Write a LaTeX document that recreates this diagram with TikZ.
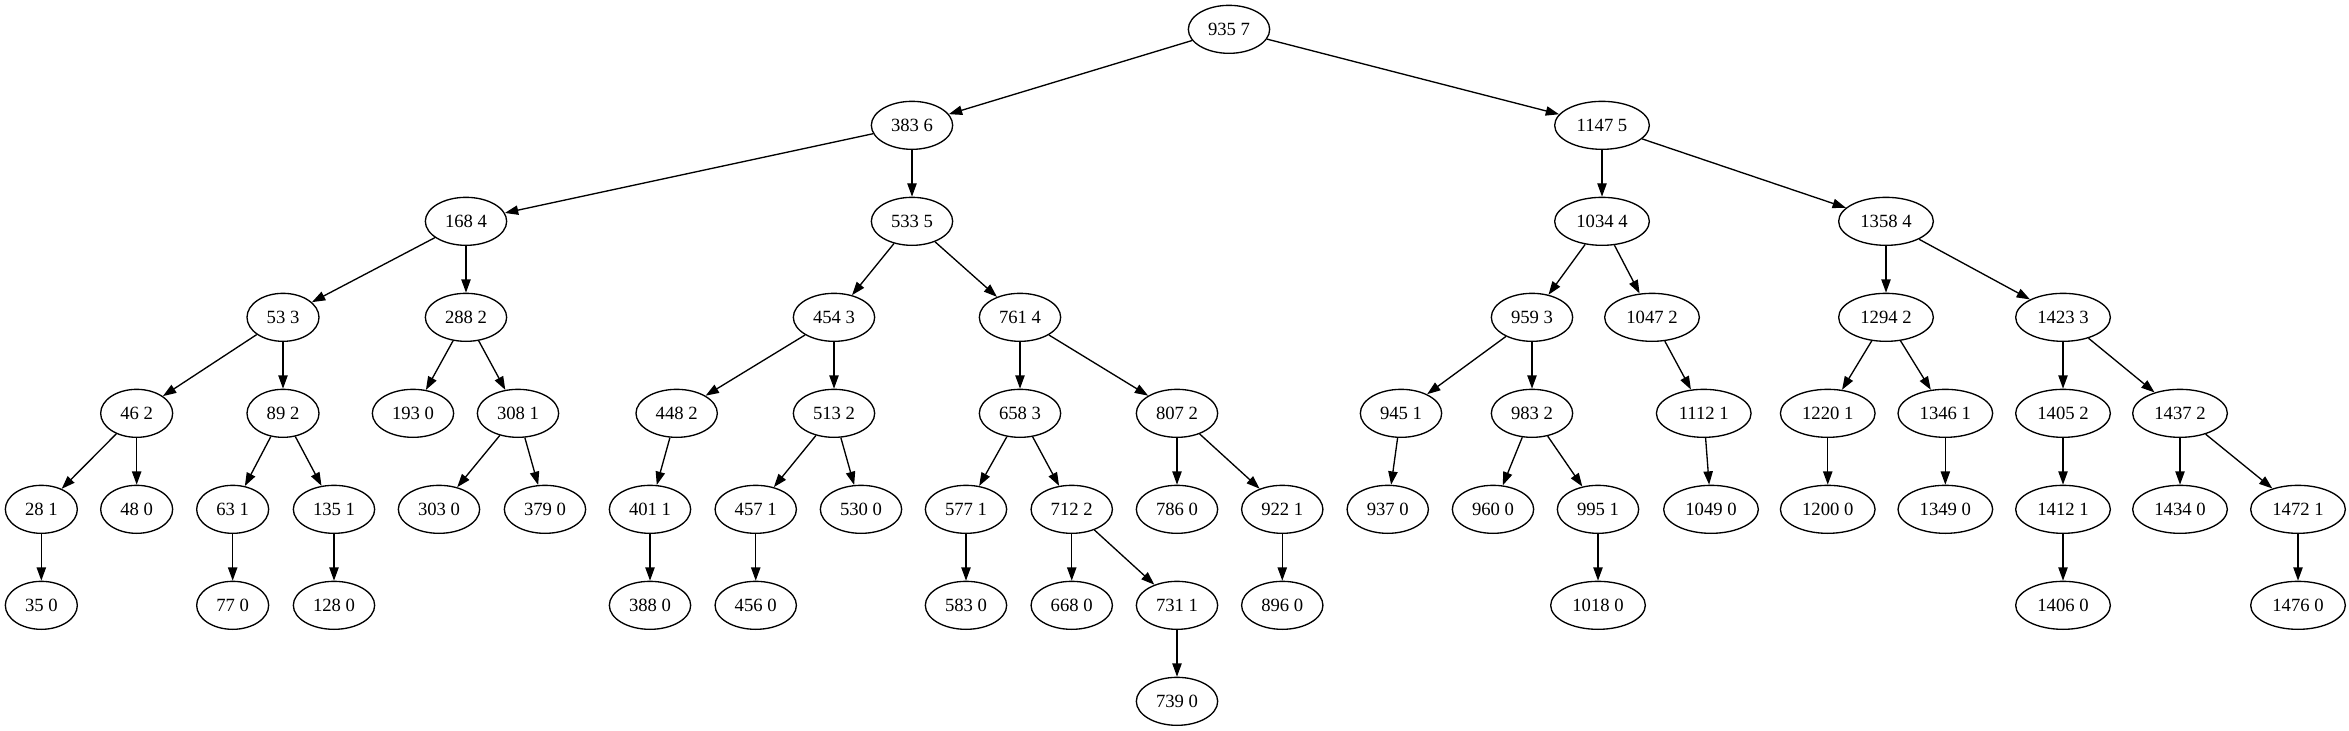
\documentclass[tikz,border=0pt]{standalone}
\usepackage{fontspec}
\setmainfont{Liberation Serif}
\usetikzlibrary{arrows.meta,shapes.geometric}
\tikzset{
  base/.style={draw, ellipse, line width=1pt, inner sep=0pt, minimum height=36pt, font=\fontsize{14}{16}\selectfont},
  nd/.style={base, minimum width=54pt},
  nm/.style={base, minimum width=61pt},
  nw/.style={base, minimum width=71pt},
  edge/.style={line width=1pt, -{Triangle[length=10pt,width=7pt]}}
}
\begin{document}
\begin{tikzpicture}[x=1pt,y=1pt]
\useasboundingbox (0,0) rectangle (1761.75,-548.25);
% level 0
\node[nm] (n935) at (921.75,-22) {935 7};
% level 1
\node[nm] (n383) at (684,-94) {383 6};
\node[nw] (n1147) at (1201.5,-94) {1147 5};
% level 2
\node[nm] (n168) at (349.5,-166) {168 4};
\node[nm] (n533) at (684,-166) {533 5};
\node[nw] (n1034) at (1201.5,-166) {1034 4};
\node[nw] (n1358) at (1414.5,-166) {1358 4};
% level 3
\node[nd] (n53) at (212.25,-238) {53 3};
\node[nm] (n288) at (349.5,-238) {288 2};
\node[nm] (n454) at (625.5,-238) {454 3};
\node[nm] (n761) at (765,-238) {761 4};
\node[nm] (n959) at (1149,-238) {959 3};
\node[nw] (n1047) at (1239,-238) {1047 2};
\node[nw] (n1294) at (1414.5,-238) {1294 2};
\node[nw] (n1423) at (1547.25,-238) {1423 3};
% level 4
\node[nd] (n46) at (102.5,-310) {46 2};
\node[nd] (n89) at (212.25,-310) {89 2};
\node[nm] (n193) at (309.75,-310) {193 0};
\node[nm] (n308) at (388.5,-310) {308 1};
\node[nm] (n448) at (507.5,-310) {448 2};
\node[nm] (n513) at (625.5,-310) {513 2};
\node[nm] (n658) at (765,-310) {658 3};
\node[nm] (n807) at (882.75,-310) {807 2};
\node[nm] (n945) at (1050.75,-310) {945 1};
\node[nm] (n983) at (1149,-310) {983 2};
\node[nw] (n1112) at (1277.8,-310) {1112 1};
\node[nw] (n1220) at (1370.8,-310) {1220 1};
\node[nw] (n1346) at (1459,-310) {1346 1};
\node[nw] (n1405) at (1547.25,-310) {1405 2};
\node[nw] (n1437) at (1635,-310) {1437 2};
% level 5
\node[nd] (n28) at (31,-382) {28 1};
\node[nd] (n48) at (102.5,-382) {48 0};
\node[nd] (n63) at (174.5,-382) {63 1};
\node[nm] (n135) at (250.5,-382) {135 1};
\node[nm] (n303) at (329.25,-382) {303 0};
\node[nm] (n379) at (408.75,-382) {379 0};
\node[nm] (n401) at (487.5,-382) {401 1};
\node[nm] (n457) at (566.8,-382) {457 1};
\node[nm] (n530) at (645.75,-382) {530 0};
\node[nm] (n577) at (724.5,-382) {577 1};
\node[nm] (n712) at (803.8,-382) {712 2};
\node[nm] (n786) at (882.75,-382) {786 0};
\node[nm] (n922) at (961.7,-382) {922 1};
\node[nm] (n937) at (1040.8,-382) {937 0};
\node[nm] (n960) at (1119.75,-382) {960 0};
\node[nm] (n995) at (1198.5,-382) {995 1};
\node[nw] (n1049) at (1283.25,-382) {1049 0};
\node[nw] (n1200) at (1370.8,-382) {1200 0};
\node[nw] (n1349) at (1459,-382) {1349 0};
\node[nw] (n1412) at (1547.25,-382) {1412 1};
\node[nw] (n1434) at (1635,-382) {1434 0};
\node[nw] (n1472) at (1723.5,-382) {1472 1};
% level 6
\node[nd] (n35) at (31,-454) {35 0};
\node[nd] (n77) at (174.5,-454) {77 0};
\node[nm] (n128) at (250.5,-454) {128 0};
\node[nm] (n388) at (487.5,-454) {388 0};
\node[nm] (n456) at (566.8,-454) {456 0};
\node[nm] (n583) at (724.5,-454) {583 0};
\node[nm] (n668) at (803.8,-454) {668 0};
\node[nm] (n731) at (882.75,-454) {731 1};
\node[nm] (n896) at (961.7,-454) {896 0};
\node[nw] (n1018) at (1198.5,-454) {1018 0};
\node[nw] (n1406) at (1547.25,-454) {1406 0};
\node[nw] (n1476) at (1723.5,-454) {1476 0};
% level 7
\node[nm] (n739) at (882.75,-526) {739 0};
% edges
\foreach \a/\b in {935/383,935/1147,383/168,383/533,168/53,168/288,53/46,53/89,
  46/28,46/48,28/35,89/63,89/135,63/77,135/128,288/193,288/308,308/303,308/379,
  533/454,533/761,454/448,454/513,448/401,401/388,513/457,513/530,457/456,
  761/658,761/807,658/577,658/712,577/583,712/668,712/731,731/739,807/786,807/922,922/896,
  1147/1034,1147/1358,1034/959,1034/1047,959/945,959/983,945/937,983/960,983/995,995/1018,
  1047/1112,1112/1049,1358/1294,1358/1423,1294/1220,1294/1346,1220/1200,1346/1349,
  1423/1405,1423/1437,1405/1412,1412/1406,1437/1434,1437/1472,1472/1476}
  \draw[edge] (n\a) -- (n\b);
\end{tikzpicture}
\end{document}
